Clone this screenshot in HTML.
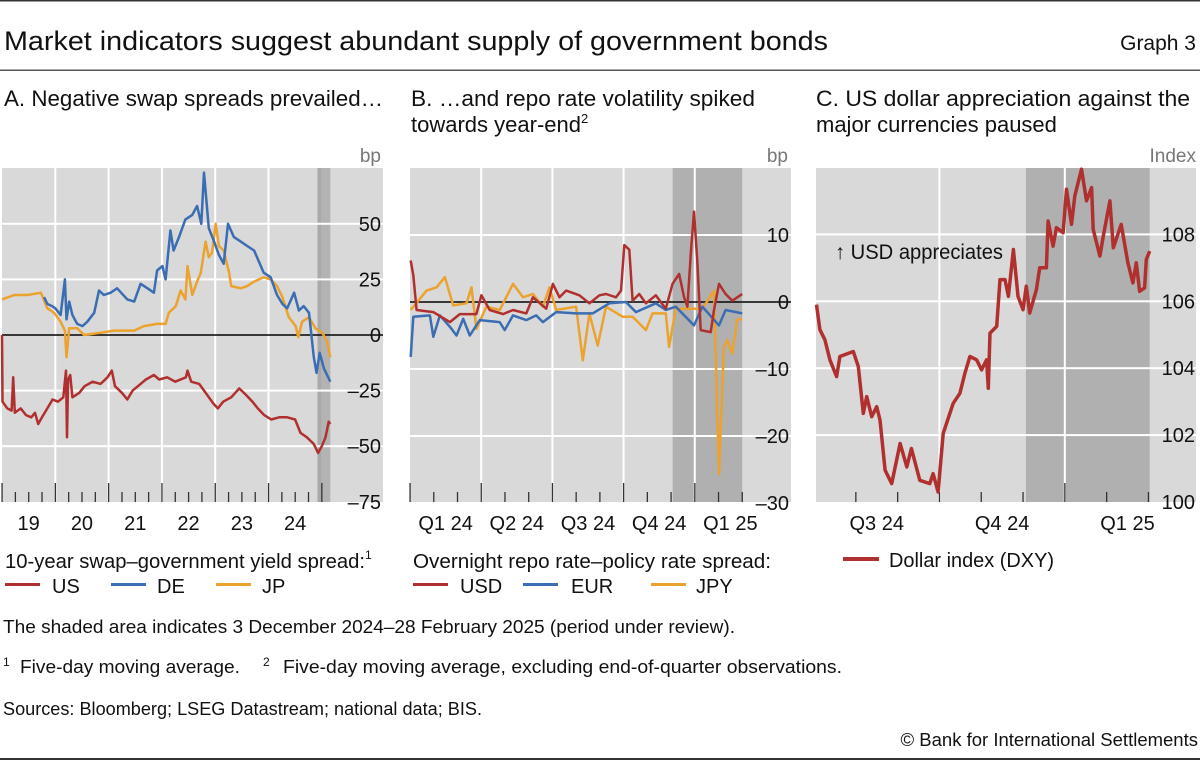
<!DOCTYPE html>
<html><head><meta charset="utf-8"><style>
html,body{margin:0;padding:0;background:#fff;}
svg text{font-family:"Liberation Sans",sans-serif;}
</style></head><body>
<svg id="chart" width="1200" height="761" viewBox="0 0 1200 761" xmlns="http://www.w3.org/2000/svg">
<rect x="0" y="0" width="1200" height="1.5" fill="#333"/>
<text x="4" y="50" font-size="27" fill="#111" textLength="824" lengthAdjust="spacingAndGlyphs">Market indicators suggest abundant supply of government bonds</text>
<text x="1196" y="50" font-size="21" text-anchor="end" fill="#111">Graph 3</text>
<rect x="0" y="69.5" width="1200" height="1.5" fill="#555"/>
<text x="4" y="106" font-size="22" fill="#111" textLength="379" lengthAdjust="spacingAndGlyphs">A. Negative swap spreads prevailed…</text>
<text x="411" y="106" font-size="22" fill="#111" textLength="344" lengthAdjust="spacingAndGlyphs">B. …and repo rate volatility spiked</text>
<text x="411" y="132" font-size="22" fill="#111">towards year-end<tspan font-size="13" dy="-9">2</tspan></text>
<text x="816" y="106" font-size="22" fill="#111" textLength="374" lengthAdjust="spacingAndGlyphs">C. US dollar appreciation against the</text>
<text x="816" y="132" font-size="22" fill="#111">major currencies paused</text>
<g id="pa"></g>
<g id="pb"></g>
<g id="pc"></g>
<!-- legends -->
<text x="5" y="568" font-size="20" fill="#111"><tspan textLength="360" lengthAdjust="spacingAndGlyphs">10-year swap–government yield spread:</tspan><tspan font-size="12" dy="-9">1</tspan></text>
<g><rect x="5" y="583" width="35" height="3" fill="#b0302f"/><text x="52" y="593" font-size="20" fill="#111">US</text></g>
<g><rect x="111" y="583" width="35" height="3" fill="#3b6db3"/><text x="157" y="593" font-size="20" fill="#111">DE</text></g>
<g><rect x="216" y="583" width="35" height="3" fill="#eba22e"/><text x="262" y="593" font-size="20" fill="#111">JP</text></g>
<text x="413" y="568" font-size="20" fill="#111" textLength="358" lengthAdjust="spacingAndGlyphs">Overnight repo rate–policy rate spread:</text>
<g><rect x="413" y="583" width="35" height="3" fill="#b0302f"/><text x="460" y="593" font-size="20" fill="#111">USD</text></g>
<g><rect x="523" y="583" width="35" height="3" fill="#3b6db3"/><text x="571" y="593" font-size="20" fill="#111">EUR</text></g>
<g><rect x="651" y="583" width="35" height="3" fill="#eba22e"/><text x="696" y="593" font-size="20" fill="#111">JPY</text></g>
<g><rect x="843" y="557" width="36" height="4" fill="#b0302f"/><text x="889" y="567" font-size="20" fill="#111" textLength="165" lengthAdjust="spacingAndGlyphs">Dollar index (DXY)</text></g>
<text x="3" y="633" font-size="18.5" fill="#111" textLength="732" lengthAdjust="spacingAndGlyphs">The shaded area indicates 3 December 2024–28 February 2025 (period under review).</text>
<g>
<text x="3" y="666" font-size="12" fill="#111">1</text>
<text x="20" y="673" font-size="18.5" fill="#111" textLength="220" lengthAdjust="spacingAndGlyphs">Five-day moving average.</text>
<text x="263" y="666" font-size="12" fill="#111">2</text>
<text x="283" y="673" font-size="18.5" fill="#111" textLength="559" lengthAdjust="spacingAndGlyphs">Five-day moving average, excluding end-of-quarter observations.</text>
</g>
<text x="3" y="715" font-size="18.5" fill="#111" textLength="479" lengthAdjust="spacingAndGlyphs">Sources: Bloomberg; LSEG Datastream; national data; BIS.</text>
<text x="1198" y="746" font-size="18.5" text-anchor="end" fill="#111">© Bank for International Settlements</text>
<rect x="0" y="758" width="1200" height="2" fill="#333"/>
</svg>
<script>
// ---------- Panel A data (decimal years, bp) ----------
const usT=[2019.00,2019.01,2019.10,2019.18,2019.21,2019.24,2019.35,2019.45,2019.55,2019.62,2019.68,2019.75,2019.85,2019.95,2020.05,2020.15,2020.20,2020.22,2020.24,2020.28,2020.32,2020.45,2020.55,2020.70,2020.85,2020.98,2021.06,2021.12,2021.25,2021.35,2021.45,2021.55,2021.70,2021.85,2021.95,2022.10,2022.25,2022.45,2022.48,2022.55,2022.70,2022.85,2022.97,2023.05,2023.15,2023.30,2023.45,2023.58,2023.70,2023.80,2023.92,2024.05,2024.20,2024.35,2024.50,2024.60,2024.72,2024.85,2024.93,2025.00,2025.07,2025.13,2025.16];
const usV=[0,-30,-33,-34,-19,-35,-33,-36,-37,-35,-40,-37,-33,-29,-30,-28,-16,-46,-20,-18,-28,-26,-23,-21,-22,-19,-16,-23,-26,-29,-25,-23,-20,-18,-20,-19,-21,-19,-16,-21,-22,-27,-31,-33,-30,-28,-24,-27,-30,-33,-36,-38,-37,-37,-38,-44,-46,-49,-53,-50,-46,-39,-40];
const deT=[2019.79,2019.85,2019.94,2020.00,2020.10,2020.18,2020.21,2020.26,2020.32,2020.41,2020.51,2020.60,2020.73,2020.82,2020.91,2021.04,2021.16,2021.35,2021.48,2021.60,2021.73,2021.85,2021.91,2022.01,2022.07,2022.16,2022.22,2022.32,2022.44,2022.57,2022.66,2022.74,2022.79,2022.88,2022.98,2023.07,2023.16,2023.24,2023.35,2023.48,2023.60,2023.73,2023.82,2023.91,2024.04,2024.16,2024.26,2024.35,2024.48,2024.57,2024.66,2024.76,2024.85,2024.90,2024.96,2025.04,2025.10,2025.16];
const deV=[17,14,13,12,9,25,7,15,9,5,4,6,10,20,18,19,21,16,15,23,21,19,29,31,25,47,38,44,52,54,58,50,73,48,42,36,32,50,44,42,40,38,33,28,26,18,14,12,19,11,13,10,-10,-17,-8,-15,-18,-21];
const jpT=[2019.00,2019.23,2019.48,2019.73,2019.85,2019.98,2020.10,2020.18,2020.21,2020.26,2020.41,2020.54,2020.85,2021.10,2021.29,2021.48,2021.66,2021.91,2022.07,2022.13,2022.26,2022.35,2022.44,2022.48,2022.57,2022.66,2022.73,2022.82,2022.88,2022.94,2023.01,2023.07,2023.16,2023.26,2023.30,2023.48,2023.60,2023.73,2023.91,2024.04,2024.16,2024.26,2024.38,2024.51,2024.56,2024.63,2024.76,2024.88,2025.01,2025.10,2025.16];
const jpV=[16,18,18,19,12,10,6,2,-10,3,3,0,1,2,2,2,4,5,5,10,13,20,16,31,18,24,28,42,35,37,50,40,38,28,22,21,22,24,26,25,22,17,8,4,-1,6,8,3,1,-3,-10];
const aYTicks=[50,25,0,-25,-50,-75];
const aYLabels=["50","25","0","–25","–50","–75"];
const aXLabels=["19","20","21","22","23","24"];
// ---------- Panel B data (months since 1 Jan 2024, bp) ----------
const usdT=[0.03,0.14,0.28,0.98,1.68,2.1,2.8,3.01,3.36,3.92,4.34,4.9,5.18,5.74,6.02,6.3,6.58,7.14,7.56,7.98,8.26,8.68,8.89,9.03,9.24,9.38,9.66,9.94,10.36,10.78,11.06,11.34,11.55,11.69,11.83,11.97,12.11,12.25,12.67,12.81,13.02,13.3,13.58,14.0];
const usdV=[6.2,4,-1.2,-1.5,-3,-1.8,-1.8,1,-1.2,-1.8,-1.2,-1.7,0.7,-1,2.7,0.7,1.7,1,-0.2,1,1.2,0.7,1.7,8.5,7.8,0.2,1.2,-0.2,1,-1,2.7,4.2,0.7,-0.7,7,13.5,5.8,-4.2,-4.5,-1.2,2.7,1.2,0.2,1.2];
const eurT=[0.03,0.14,0.84,0.98,1.26,1.68,1.96,2.24,2.52,2.94,3.78,3.99,4.34,4.9,5.32,5.6,6.16,7.0,7.7,8.4,9.1,9.52,10.36,10.78,11.2,11.97,12.32,13.02,13.3,14.0];
const eurV=[-8.2,-2.2,-2,-5.2,-2,-3.7,-5,-2.5,-5,-2.7,-3,-4.2,-2,-2.7,-2,-3,-1.5,-1.7,-1.7,-0.2,0,-1.5,-0.2,-1.2,-0.7,-3.5,-0.7,-3.5,-1.2,-1.7];
const jpyT=[0.03,0.7,1.12,1.47,1.82,2.38,2.59,2.8,3.22,3.78,4.34,4.76,5.18,5.6,5.88,6.16,7.0,7.28,7.56,7.91,8.26,8.96,9.38,9.94,10.22,10.78,10.92,11.2,11.76,12.32,12.81,13.02,13.23,13.37,13.58,13.79,14.0];
const jpyV=[-1.2,1.7,2.2,3.7,-0.5,-0.2,2.2,-4,-0.7,-1.2,2.7,0.7,1.2,-0.7,2.2,-1.2,-0.7,-8.7,-1.7,-6.5,-0.7,-2.2,-2.2,-4.2,-1.7,-1.7,-6.7,-1,-1,-1,1.7,-25.7,-6.7,-5.7,-7.7,-2.7,-2.5];
const bYTicks=[10,0,-10,-20,-30];
const bYLabels=["10","0","–10","–20","–30"];
const bXLabels=["Q1 24","Q2 24","Q3 24","Q4 24","Q1 25"];
// ---------- Panel C data (months since 1 Jul 2024, index) ----------
const dxyT=[0.06,0.14,0.26,0.38,0.54,0.62,0.94,1.06,1.18,1.26,1.38,1.5,1.58,1.7,1.86,2.06,2.22,2.33,2.53,2.77,2.85,2.97,3.09,3.33,3.49,3.61,3.73,3.89,4.01,4.13,4.17,4.21,4.37,4.45,4.57,4.65,4.77,4.88,5.0,5.08,5.16,5.32,5.4,5.56,5.6,5.72,5.8,5.96,6.04,6.16,6.24,6.4,6.52,6.64,6.68,6.84,6.92,7.08,7.16,7.35,7.51,7.63,7.71,7.79,7.91,7.95,8.03];
const dxyV=[105.9,105.15,104.85,104.25,103.75,104.35,104.5,104.05,102.65,103.15,102.55,102.85,102.45,100.95,100.55,101.75,101.05,101.6,100.65,100.55,100.85,100.3,102.05,102.95,103.25,103.85,104.35,104.25,103.95,104.25,103.4,105.05,105.25,106.65,106.65,106.15,107.55,106.15,105.75,106.45,105.65,106.35,107.0,107.0,108.4,107.65,108.2,108.05,109.35,108.3,109.15,109.95,109.0,109.4,108.15,107.35,107.95,109.0,107.6,108.3,107.15,106.55,107.15,106.3,106.4,107.25,107.5];
const cYTicks=[108,106,104,102,100];
const cYLabels=["108","106","104","102","100"];
const cXLabels=["Q3 24","Q4 24","Q1 25"];

const NS="http://www.w3.org/2000/svg";
function mk(parent,tag,attrs){const e=document.createElementNS(NS,tag);for(const k in attrs)e.setAttribute(k,attrs[k]);parent.appendChild(e);return e;}
const TOP=168,BOT=502;
const RED="#b0302f",BLUE="#3b6db3",ORANGE="#eba22e";

const xA=t=>2+(t-2019)*53.3, yA=v=>335-v*2.224;
const xB=m=>410+m*23.73, yB=v=>302-v*6.7;
const xC=m=>814+m*41.8, yC=v=>BOT-(v-100)*33.45;

function line(g,T,V,xs,ys,color,w,name){
  let d="";for(let i=0;i<T.length;i++){d+=(i?"L":"M")+xs(T[i]).toFixed(1)+","+ys(V[i]).toFixed(1);}
  const p=mk(g,"path",{d:d,fill:"none",stroke:color,"stroke-width":w,"stroke-linejoin":"round"});
  
  
}
function ylab(g,ticks,labels,ys,x){
  ticks.forEach((v,i)=>{const t=mk(g,"text",{x:x,y:ys(v)+7,"font-size":20,"text-anchor":"end",fill:"#111"});t.textContent=labels[i];
  
  });
}
function tick(g,x,major){mk(g,"rect",{x:x-0.6,y:major?483:492,width:1.3,height:major?19:10,fill:"#333"});}

(function(){
  const g=document.getElementById("pa");
  const bg=mk(g,"rect",{x:2,y:TOP,width:381,height:BOT-TOP,fill:"#d9d9d9"});
  
  
  mk(g,"rect",{x:xA(2024.92),y:TOP,width:xA(2025.0)-xA(2024.92),height:BOT-TOP,fill:"#a9a9a9"});
  const sh=mk(g,"rect",{x:xA(2025.0),y:TOP,width:xA(2025.16)-xA(2025.0),height:BOT-TOP,fill:"#b3b3b3"});
  
  
  aYTicks.forEach(v=>{if(v!==0&&v!==-75)mk(g,"rect",{x:2,y:yA(v)-1,width:381,height:2,fill:"#fff"});});
  for(let y=2020;y<=2024;y++)mk(g,"rect",{x:xA(y)-1,y:TOP,width:2,height:BOT-TOP,fill:"#fff"});
  for(let q=0;q<=24;q++)tick(g,xA(2019+q/4),q%4===0);
  mk(g,"rect",{x:2,y:yA(0)-0.8,width:381,height:1.6,fill:"#111"});
  line(g,jpT,jpV,xA,yA,ORANGE,2.5,"series-jp");
  line(g,deT,deV,xA,yA,BLUE,2.5,"series-de");
  line(g,usT,usV,xA,yA,RED,2.5,"series-us");
  ylab(g,aYTicks,aYLabels,yA,381);
  const u=mk(g,"text",{x:381,y:162,"font-size":19,"text-anchor":"end",fill:"#777"});u.textContent="bp";
  
  
  aXLabels.forEach((l,i)=>{const t=mk(g,"text",{x:xA(2019.5+i),y:530,"font-size":20,"text-anchor":"middle",fill:"#111"});t.textContent=l;
  
  });
})();

(function(){
  const g=document.getElementById("pb");
  const bg=mk(g,"rect",{x:410,y:TOP,width:381,height:BOT-TOP,fill:"#d9d9d9"});
  
  
  const sh=mk(g,"rect",{x:xB(11.07),y:TOP,width:xB(14)-xB(11.07),height:BOT-TOP,fill:"#b0b0b0"});
  
  
  bYTicks.forEach(v=>{if(v!==0&&v!==-30)mk(g,"rect",{x:410,y:yB(v)-1,width:381,height:2,fill:"#fff"});});
  for(let m=3;m<=12;m+=3)mk(g,"rect",{x:xB(m)-1,y:TOP,width:2,height:BOT-TOP,fill:"#fff"});
  for(let m=0;m<=14;m++)tick(g,xB(m),m%3===0);
  mk(g,"rect",{x:410,y:yB(0)-0.8,width:381,height:1.6,fill:"#111"});
  line(g,jpyT,jpyV,xB,yB,ORANGE,2.5,"series-jpy");
  line(g,eurT,eurV,xB,yB,BLUE,2.5,"series-eur");
  line(g,usdT,usdV,xB,yB,RED,2.5,"series-usd");
  ylab(g,bYTicks,bYLabels,yB,789);
  const u=mk(g,"text",{x:788,y:162,"font-size":19,"text-anchor":"end",fill:"#777"});u.textContent="bp";
  
  
  bXLabels.forEach((l,i)=>{const t=mk(g,"text",{x:xB(1.5+3*i),y:530,"font-size":20,"text-anchor":"middle",fill:"#111"});t.textContent=l;
  
  });
})();

(function(){
  const g=document.getElementById("pc");
  const bg=mk(g,"rect",{x:816,y:TOP,width:380,height:BOT-TOP,fill:"#d9d9d9"});
  
  
  const sh=mk(g,"rect",{x:xC(5.07),y:TOP,width:xC(8.03)-xC(5.07),height:BOT-TOP,fill:"#b0b0b0"});
  
  
  cYTicks.forEach(v=>{if(v!==100)mk(g,"rect",{x:816,y:yC(v)-1,width:380,height:2,fill:"#fff"});});
  [3,6].forEach(m=>mk(g,"rect",{x:xC(m)-1,y:TOP,width:2,height:BOT-TOP,fill:"#fff"}));
  for(let m=1;m<=8;m++)tick(g,xC(m),m===6);
  line(g,dxyT,dxyV,xC,yC,RED,3.5,"series-dxy");
  ylab(g,cYTicks,cYLabels,yC,1195);
  const u=mk(g,"text",{x:1196,y:162,"font-size":19,"text-anchor":"end",fill:"#777"});u.textContent="Index";
  
  
  const a=mk(g,"text",{x:835,y:259,"font-size":21,fill:"#111",textLength:168,lengthAdjust:"spacingAndGlyphs"});a.textContent="↑ USD appreciates";
  
  
  cXLabels.forEach((l,i)=>{const t=mk(g,"text",{x:xC(1.5+3*i),y:530,"font-size":20,"text-anchor":"middle",fill:"#111"});t.textContent=l;
  
  });
})();
</script>
</body></html>
